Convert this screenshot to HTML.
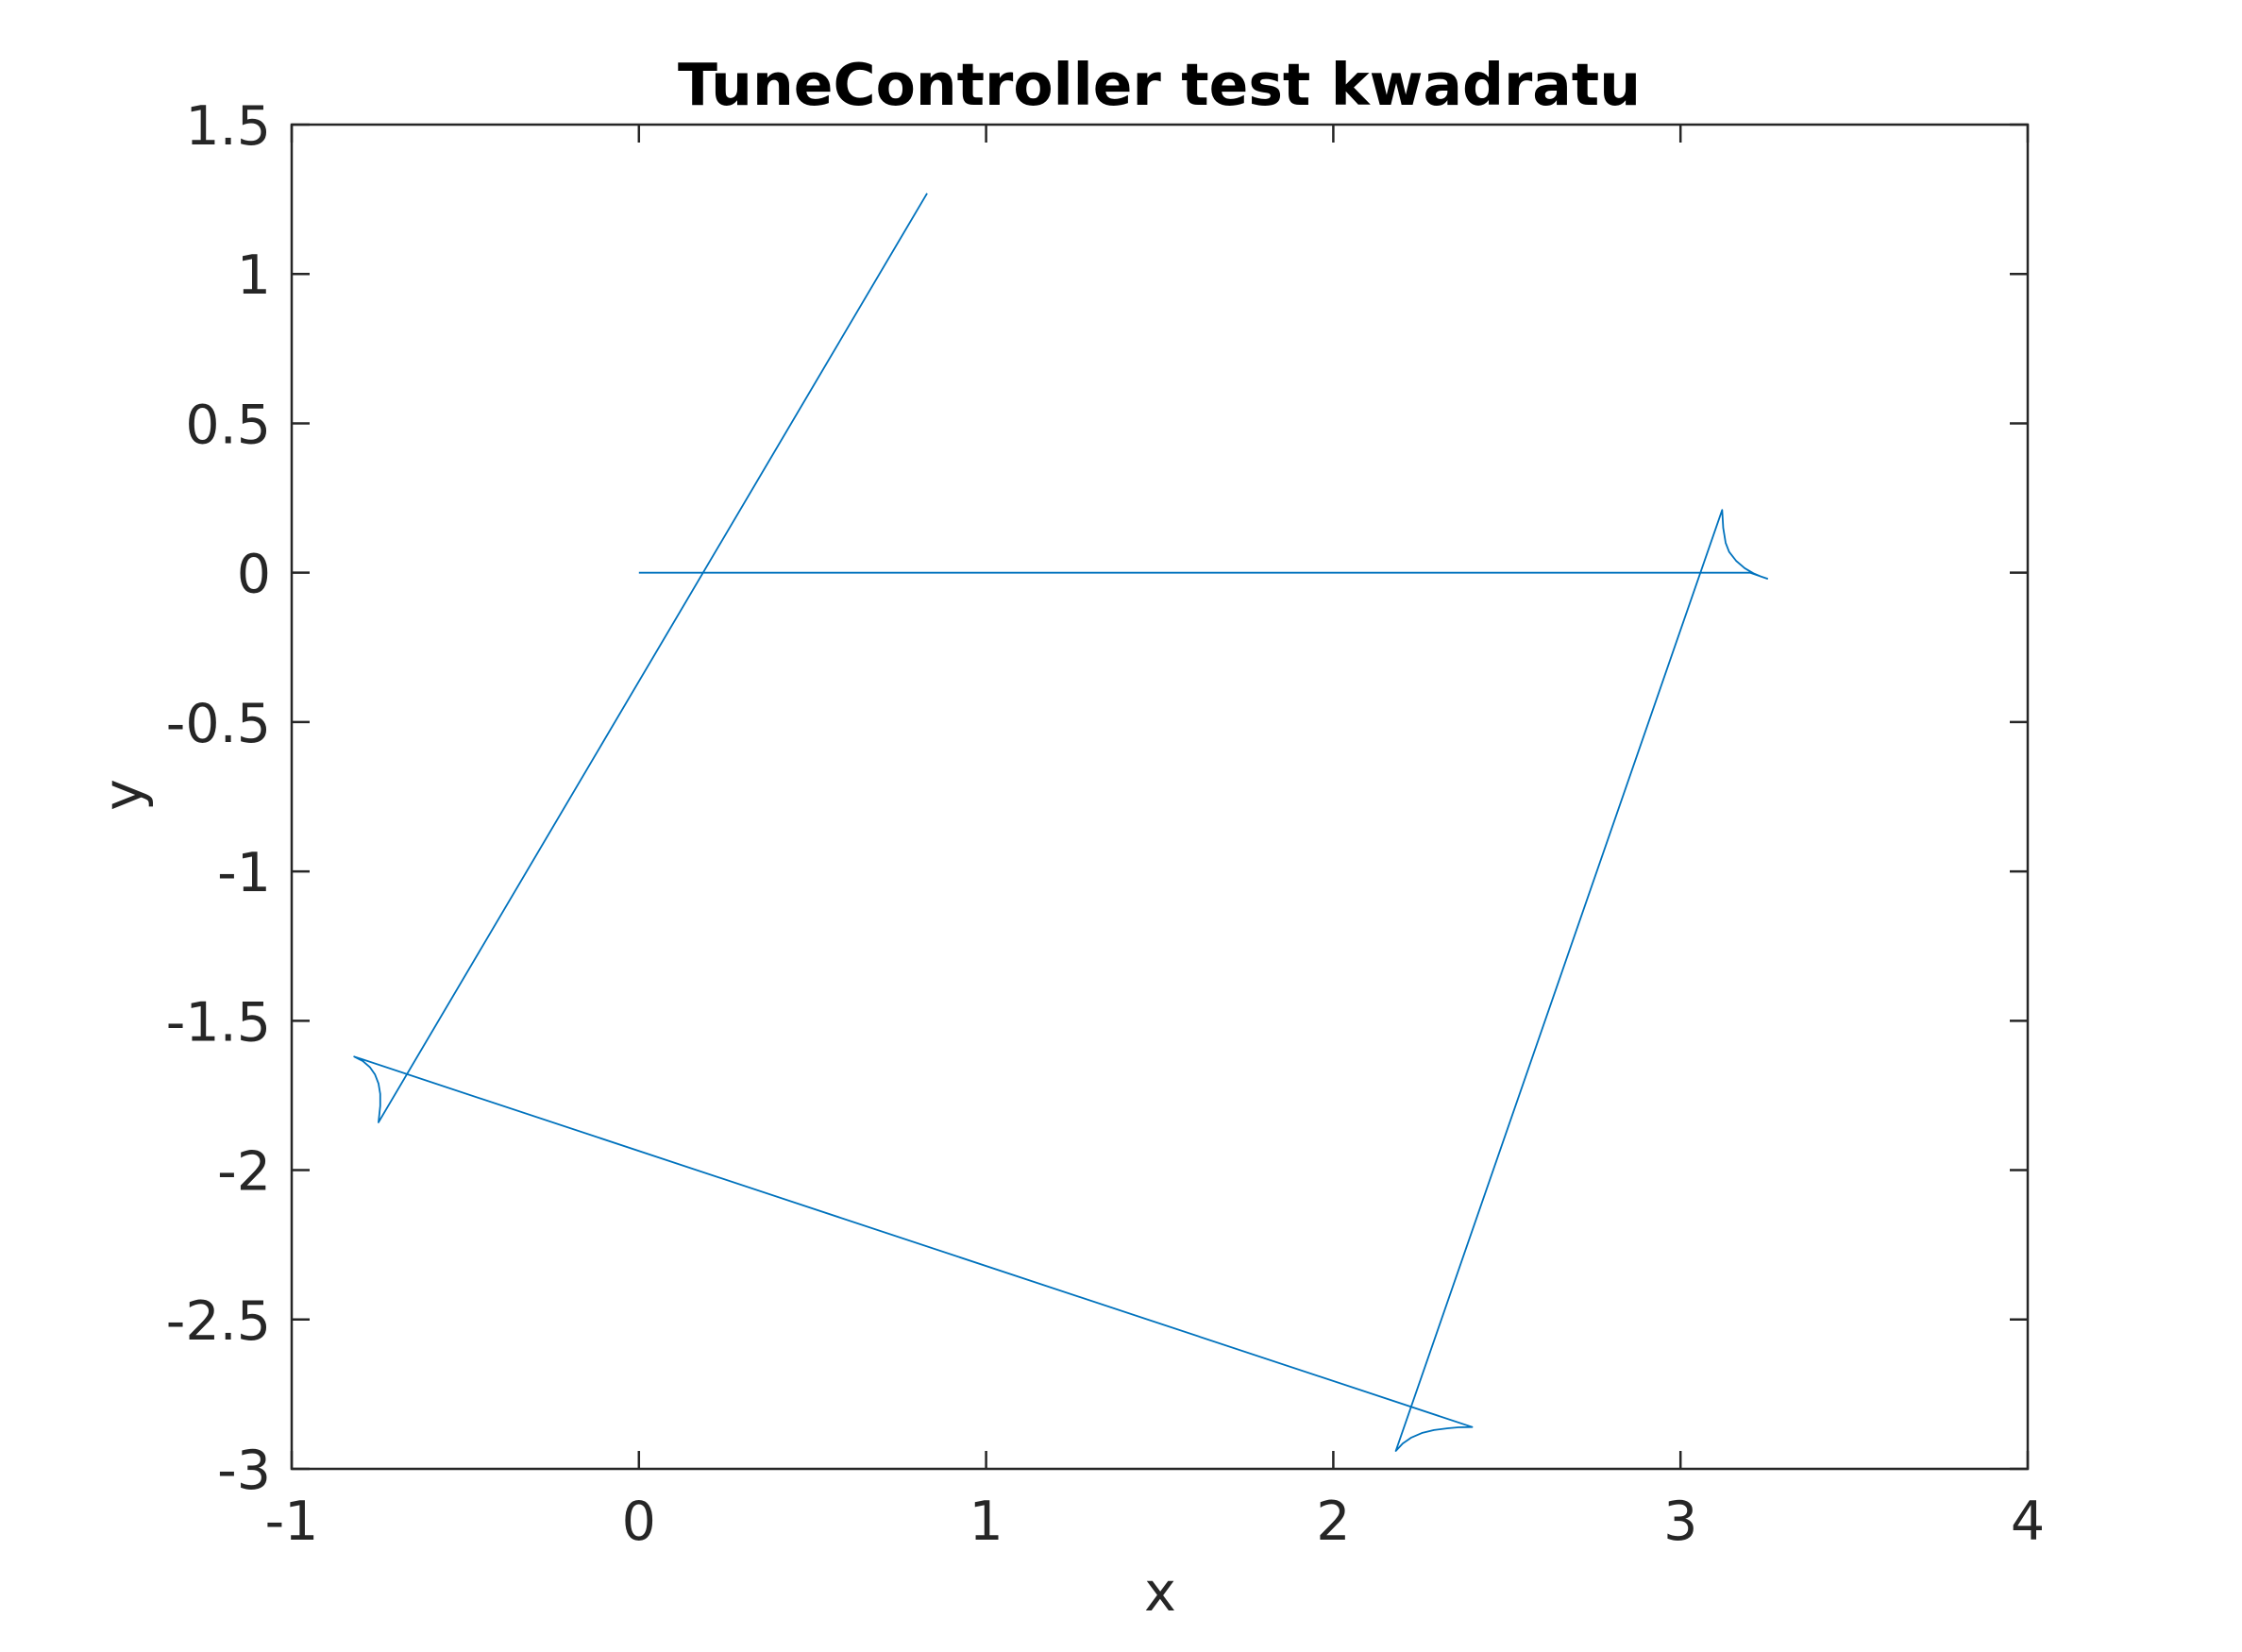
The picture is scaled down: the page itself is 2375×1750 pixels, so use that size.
<!DOCTYPE html>
<html><head><meta charset="utf-8"><style>
html,body{margin:0;padding:0;background:#fff;}
svg{display:block;font-family:"DejaVu Sans","Liberation Sans",sans-serif;}
</style></head><body>
<svg id="chart" width="2375" height="1750" viewBox="0 0 2375 1750" xmlns="http://www.w3.org/2000/svg">
<rect x="0" y="0" width="2375" height="1750" fill="#fff"/>
<text x="1228" y="111" font-size="61.5" font-weight="bold" text-anchor="middle" fill="#000">TuneController test kwadratu</text>
<text x="1229" y="1706" font-size="57" text-anchor="middle" fill="#262626">x</text>
<text x="0" y="0" font-size="57" text-anchor="middle" fill="#262626" transform="translate(150,842) rotate(-90)">y</text>
<g id="ticks"></g>
<g id="series"></g>
<rect x="309" y="132" width="1839" height="1424" fill="none" stroke="#262626" stroke-width="2.5"/>
</svg>
<script>
const xTicks = [-1, 0, 1, 2, 3, 4];
const xTickLabels = ["-1", "0", "1", "2", "3", "4"];
const yTicks = [1.5, 1, 0.5, 0, -0.5, -1, -1.5, -2, -2.5, -3];
const yTickLabels = ["1.5", "1", "0.5", "0", "-0.5", "-1", "-1.5", "-2", "-2.5", "-3"];
const pathX = [0, 3.2, 3.25, 3.23, 3.21, 3.185, 3.16, 3.14, 3.13, 3.123, 3.12, 2.18, 2.20, 2.225, 2.255, 2.29, 2.33, 2.36, 2.40, -0.82, -0.795, -0.775, -0.76, -0.75, -0.745, -0.745, -0.75, 0.83];
const pathY = [0, 0, -0.02, -0.012, -0.002, 0.015, 0.04, 0.07, 0.10, 0.15, 0.21, -2.94, -2.915, -2.895, -2.88, -2.87, -2.864, -2.861, -2.86, -1.62, -1.635, -1.655, -1.68, -1.71, -1.745, -1.785, -1.84, 1.27];

const L = 309, R = 2148, T = 132, B = 1556;
const xMin = -1, xMax = 4, yMin = -3, yMax = 1.5;
const sx = v => L + (v - xMin) / (xMax - xMin) * (R - L);
const sy = v => B - (v - yMin) / (yMax - yMin) * (B - T);
const NS = "http://www.w3.org/2000/svg";
const tg = document.getElementById('ticks');
const tl = 19;

xTicks.forEach((v, i) => {
  const x = sx(v);
  const t1 = document.createElementNS(NS, 'path');
  t1.setAttribute('d', `M${x},${B}V${B - tl}M${x},${T}V${T + tl}`);
  t1.setAttribute('stroke', '#262626'); t1.setAttribute('stroke-width', '2.5');
  
  
  tg.appendChild(t1);
  const lb = document.createElementNS(NS, 'text');
  lb.setAttribute('x', x); lb.setAttribute('y', 1631);
  lb.setAttribute('font-size', '57'); lb.setAttribute('text-anchor', 'middle'); lb.setAttribute('fill', '#262626');
  lb.textContent = xTickLabels[i];
  
  
  tg.appendChild(lb);
});
yTicks.forEach((v, i) => {
  const y = sy(v);
  const t1 = document.createElementNS(NS, 'path');
  t1.setAttribute('d', `M${L},${y}H${L + tl}M${R},${y}H${R - tl}`);
  t1.setAttribute('stroke', '#262626'); t1.setAttribute('stroke-width', '2.5');
  
  
  tg.appendChild(t1);
  const lb = document.createElementNS(NS, 'text');
  lb.setAttribute('x', 287); lb.setAttribute('y', y + 21);
  lb.setAttribute('font-size', '57'); lb.setAttribute('text-anchor', 'end'); lb.setAttribute('fill', '#262626');
  lb.textContent = yTickLabels[i];
  
  
  tg.appendChild(lb);
});
const sg = document.getElementById('series');
const line = document.createElementNS(NS, 'polyline');
line.setAttribute('points', pathX.map((x, i) => sx(x) + ',' + sy(pathY[i])).join(' '));
line.setAttribute('fill', 'none');
line.setAttribute('stroke', '#0072BD');
line.setAttribute('stroke-width', '1.8');
line.setAttribute('stroke-linejoin', 'round');


sg.appendChild(line);
</script>
</body></html>
